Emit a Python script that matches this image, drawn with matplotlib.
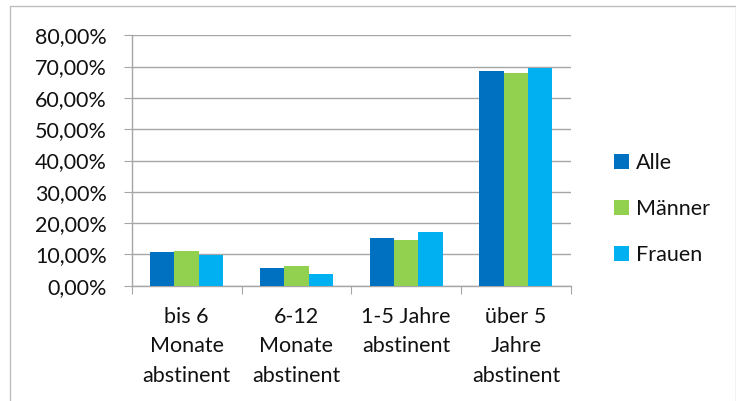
import matplotlib
matplotlib.use("Agg")
import matplotlib.pyplot as plt
from matplotlib.patches import Rectangle
import numpy as np

categories = ["bis 6\nMonate\nabstinent", "6-12\nMonate\nabstinent", "1-5 Jahre\nabstinent", "über 5\nJahre\nabstinent"]
series_names = ["Alle", "Männer", "Frauen"]
alle = [10.8, 5.5, 15.2, 68.5]
maenner = [11.1, 6.3, 14.5, 68.0]
frauen = [9.8, 3.7, 17.1, 69.4]
yticks = [0, 10, 20, 30, 40, 50, 60, 70, 80]
ytick_labels = ["0,00%", "10,00%", "20,00%", "30,00%", "40,00%", "50,00%", "60,00%", "70,00%", "80,00%"]
colors = ["#0070C0", "#92D050", "#00B0F0"]

plt.rcParams['font.family'] = ['Lato', 'DejaVu Sans']

fig = plt.figure(figsize=(7.36, 4.01), dpi=100)
ax = fig.add_axes([0.179, 0.2875, 0.5965, 0.6245])

x = np.arange(len(categories))
w = 1 / 4.5
for i, (vals, name, c) in enumerate(zip([alle, maenner, frauen], series_names, colors)):
    ax.bar(x + (i - 1) * w, vals, width=w, color=c, label=name, zorder=3)

ax.set_xlim(-0.5, len(categories) - 0.5)
ax.set_ylim(0, 80)
ax.set_yticks(yticks)
ax.set_yticklabels(ytick_labels, fontsize=15.5, color="#111111")
ax.yaxis.grid(True, color="#A6A6A6", linewidth=1, zorder=0)

ax.set_xticks(np.arange(-0.5, len(categories), 1.0))
ax.set_xticklabels([])
ax.set_xticks(x, minor=True)
ax.set_xticklabels(categories, minor=True, fontsize=15.5, linespacing=1.62, color="#111111")
ax.tick_params(axis='x', which='minor', length=0, pad=15)
ax.tick_params(axis='x', which='major', length=6, color="#A6A6A6", direction='out')
ax.tick_params(axis='y', length=6, color="#A6A6A6", pad=12)

for s in ['top', 'right']:
    ax.spines[s].set_visible(False)
for s in ['left', 'bottom']:
    ax.spines[s].set_color("#A6A6A6")
    ax.spines[s].set_linewidth(1)

leg = fig.legend(loc='upper left', bbox_to_anchor=(0.822, 0.64), frameon=False,
                 fontsize=15.5, handlelength=0.7, handleheight=0.7, handletextpad=0.35,
                 labelspacing=1.2, borderaxespad=0)
for t in leg.get_texts():
    t.set_color("#111111")

fig.patches.append(Rectangle((10 / 736, -0.1), (725.5) / 736, 1 - 6 / 401 + 0.1,
                             transform=fig.transFigure, fill=False,
                             edgecolor="#BFBFBF", linewidth=1))

fig.savefig("out.png", dpi=100)
